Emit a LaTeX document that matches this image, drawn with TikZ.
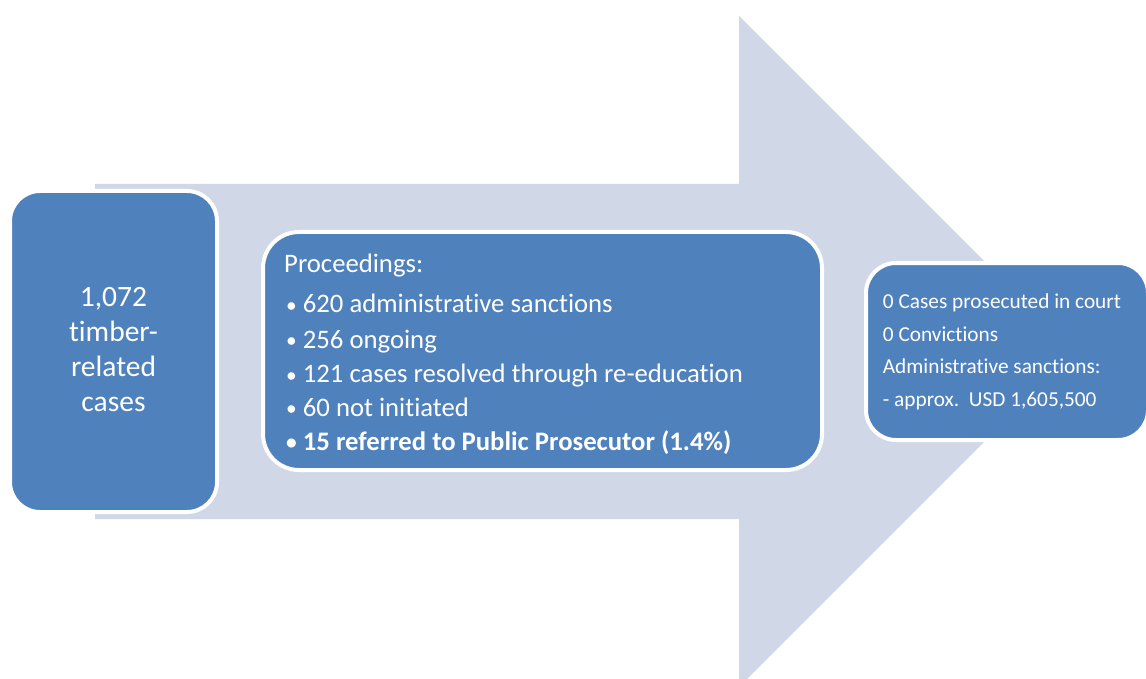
\documentclass[tikz,border=0pt]{standalone}
\usepackage{fontspec}
\setmainfont{Carlito}[Ligatures=NoCommon]
\definecolor{boxblue}{HTML}{4F81BD}
\definecolor{arrowgray}{HTML}{D0D8E8}
\tikzset{
  box/.style={fill=boxblue, draw=white, line width=4pt, rounded corners=#1, inner sep=0pt},
  bigtxt/.style={text=white, inner sep=0pt, anchor=base, font=\fontsize{29.5}{34}\selectfont},
  midtxt/.style={text=white, inner sep=0pt, anchor=base west, font=\fontsize{26.7}{32}\selectfont},
  smalltxt/.style={text=white, inner sep=0pt, anchor=base west, font=\fontsize{21.3}{25}\selectfont},
}
\newcommand{\bul}[1]{\makebox[16.7pt][l]{\raisebox{0.5pt}{\scalebox{0.8}{•}}}#1}
\begin{document}
\begin{tikzpicture}[x=1pt,y=-1pt]
\useasboundingbox (0,0) rectangle (1146,679);
\clip (0,0) rectangle (1146,679);
% big arrow
\fill[arrowgray] (95,184) -- (739,184) -- (739,16) -- (1074.5,351.5) -- (739,687) -- (739,519) -- (95,519) -- cycle;
% boxes
\node[box=30pt, minimum width=207pt, minimum height=321pt] (b1) at (113.5,351.5) {};
\node[box=36pt, minimum width=559pt, minimum height=238pt] (b2) at (542.5,351) {};
\node[box=30pt, minimum width=282pt, minimum height=177pt] (b3) at (1007,351.5) {};
% box 1 text
\node[bigtxt] (t1a) at (113.5,306.7) {1,072};
\node[bigtxt] (t1b) at (113.5,341.7) {timber-};
\node[bigtxt] (t1c) at (113.5,376.7) {related};
\node[bigtxt] (t1d) at (113.5,411.7) {cases};
% box 2 text
\node[midtxt] (t2a) at (284,272.7) {Proceedings:};
\node[midtxt] (t2b) at (286,312.7) {\bul{620 administrative sanctions}};
\node[midtxt] (t2c) at (286,348) {\bul{256 ongoing}};
\node[midtxt] (t2d) at (286,382.5) {\bul{121 cases resolved through re-education}};
\node[midtxt] (t2e) at (286,416) {\bul{60 not initiated}};
\node[midtxt, font=\fontsize{26.7}{32}\selectfont\bfseries] (t2f) at (286,450) {\bul{15 referred to Public Prosecutor (1.4\%)}};
% box 3 text
\node[smalltxt] (t3a) at (882.7,308.3) {0 Cases prosecuted in court};
\node[smalltxt] (t3b) at (882.7,341) {0 Convictions};
\node[smalltxt] (t3c) at (882.7,373.7) {Administrative sanctions:};
\node[smalltxt] (t3d) at (882.7,406.4) {- approx.\ \ USD 1,605,500};
\end{tikzpicture}
\end{document}
